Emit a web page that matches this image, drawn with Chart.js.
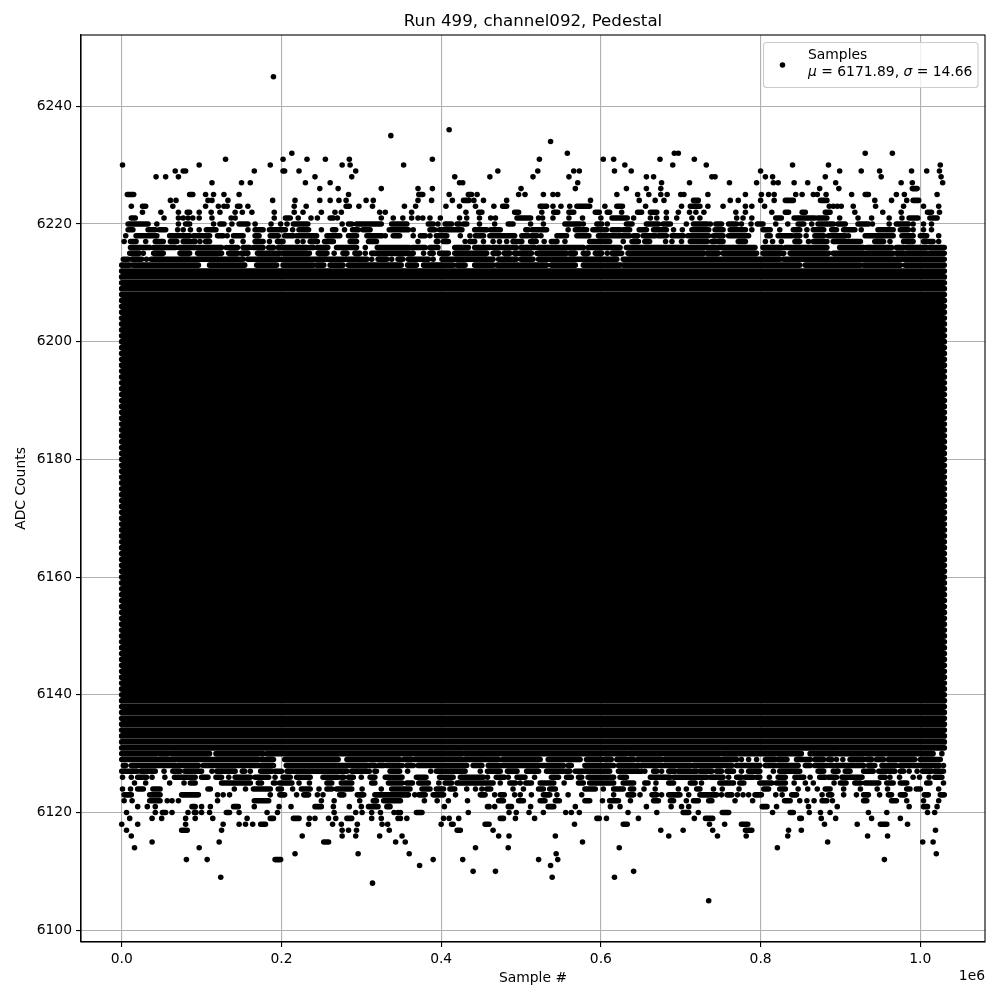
<!DOCTYPE html>
<html>
<head>
<meta charset="utf-8">
<title>Run 499, channel092, Pedestal</title>
<script src="https://cdn.jsdelivr.net/npm/chart.js@4"></script>
<style>
  body { margin: 0; background: #fff; }
  canvas { display: block; }
</style>
</head>
<body>
<canvas id="pedestalChart" width="1000" height="1000"></canvas>
<script>
// Texts and ticks
const chartTitle = "Run 499, channel092, Pedestal";
const xLabel = "Sample #";
const yLabel = "ADC Counts";
const xOffsetText = "1e6";
const legendName = "Samples";
const statMean = "6171.89";
const statSigma = "14.66";
const xTicks = [0, 200000, 400000, 600000, 800000, 1000000];
const yTicks = [6100, 6120, 6140, 6160, 6180, 6200, 6220, 6240];

// Samples per ADC level, x in thousands of samples.
// A number is one visible dot, [a, b] is a run of dots that touch each other.
const adc6245 = [190];
const adc6236 = [410];
const adc6235 = [337];
const adc6234 = [537];
const adc6232 = [213, 558, 692, 697, 931, 965];
const adc6231 = [130, 202, 232, 255, 285, 389, 523, 603, 616, 674, 717];
const adc6230 = [1, 97, 186, 276, 286, 353, 630, 690, 732, 840, 885, 1025];
const adc6229 = [67, 77, 80, 166, 202, 204, 222, 293, 471, 521, 566, 573, 617, 638, 800, 899, 926, 949, 989, 1008, 1024];
const adc6228 = [43, 55, 71, 242, 288, 417, 461, 515, 560, 657, 666, 739, 743, 806, 815, 881, 951, 1026];
const adc6227 = [113, 150, 161, 230, 261, 423, 427, 571, 676, 711, 761, 795, 816, 822, 842, 859, 894, 976, 990, 1028];
const adc6226 = [248, 271, 325, 371, 389, 500, 568, 632, 657, 675, 874, 898, [990, 996]];
const adc6225 = [[7, 15], [85, 89], 105, 115, 128, 147, 284, [372, 377], 410, [434, 438], 445, 497, 505, 528, 540, 546, 620, 646, 660, 675, 683, 700, 704, 734, 781, 801, 810, 817, 844, 852, 866, 871, 882, 914, [931, 935], 970, 980, 1021];
const adc6224 = [61, 68, 108, 113, 133, 189, 217, 248, 261, 272, 281, 306, 315, 371, 388, 414, [428, 435], 441, 453, 482, 587, 648, 668, 679, [716, 722], 762, 772, 800, 817, [831, 841], [875, 883], 943, 964, 983, [991, 998]];
const adc6223 = [12, [26, 30], 64, 105, 121, 128, 132, [145, 148], 158, 216, 231, [281, 285], 297, 314, 354, 368, 406, 423, 443, 466, [477, 482], [524, 532], 540, 550, 561, [570, 586], 605, [620, 627], 656, 701, [712, 724], 734, 753, 781, 789, 805, 886, 891, 896, 901, 916, 944, 979, 1004, 1023];
const adc6222 = [26, 49, 71, [82, 85], 97, 112, 123, 142, 151, 163, 191, 216, 227, 250, 267, 275, 323, 330, 363, 431, [447, 451], [492, 497], 526, [541, 546], [560, 566], [593, 598], [608, 611], 626, [646, 651], [662, 670], 682, 697, 711, 719, 729, 769, 781, 814, [831, 835], [852, 856], [881, 887], 918, 953, 976, [1009, 1014], 1024];
const adc6221 = [[12, 17], 53, 71, 77, 83, 89, 97, 113, 137, 142, 191, [205, 211], 221, 237, 245, [261, 265], 270, 325, 340, 352, 363, 371, 377, 386, 399, 423, 432, 448, 462, 468, [495, 512], 522, 527, 540, 560, 577, 600, [614, 633], 641, 662, 670, 682, 695, 714, 724, 770, 778, 789, [819, 826], [842, 868], [872, 883], 899, 922, 939, 961, 977, [986, 997], 1012, [1015, 1021]];
const adc6220 = [[8, 33], 44, 71, [80, 85], 115, [123, 128], 138, [147, 158], 167, 187, 199, 207, [215, 233], 276, [284, 288], [294, 325], [338, 357], [384, 390], 396, [405, 413], [420, 423], [428, 432], 448, 467, [484, 490], 512, 528, [555, 574], 578, [595, 601], 608, [632, 639], [657, 672], [678, 687], 707, [716, 733], 737, [744, 751], [760, 770], 776, 788, [796, 803], 819, 834, [847, 854], 864, [872, 891], [897, 906], [922, 935], 940, 961, [970, 985], 991, 1004, 1014];
const adc6219 = [[8, 14], [33, 42], [47, 55], 70, 77, 86, 97, [106, 118], 134, 158, [167, 177], [185, 205], 214, [222, 234], 250, [264, 268], 279, [289, 296], [302, 311], [335, 359], 365, [386, 392], [398, 426], [442, 457], [462, 474], [506, 509], [514, 532], 559, [568, 582], [590, 607], [614, 624], [628, 636], [648, 657], [666, 682], 691, 702, [714, 735], [743, 753], [762, 781], 789, [803, 812], 824, [841, 849], 858, [866, 879], [889, 895], [904, 918], 926, [947, 966], [975, 985], 991, 1004, 1014];
const adc6218 = [5, [18, 44], [60, 85], [90, 110], [120, 127], 132, [140, 152], [167, 172], [186, 196], [204, 215], [219, 244], [257, 273], [284, 294], [307, 326], 330, [340, 348], 365, [374, 380], 386, [394, 407], 424, 436, [443, 453], [461, 492], [501, 509], [513, 520], 525, [545, 557], [570, 585], [597, 620], [622, 636], [641, 646], [653, 668], [672, 682], [689, 703], [709, 735], [741, 753], [760, 785], [808, 812], [822, 839], [843, 849], 857, [868, 879], [885, 906], 910, [931, 966], [977, 991], [1000, 1008], 1023];
const adc6217 = [3, [11, 18], 30, [42, 52], [61, 69], [77, 92], 98, [105, 110], 138, 152, [167, 177], 185, [195, 202], 220, 227, [236, 245], [254, 265], [286, 294], [309, 319], 371, [394, 396], [403, 409], 430, [436, 442], 453, 465, 473, 482, [490, 501], [512, 519], 529, [538, 545], 555, [586, 611], 628, [639, 647], [655, 661], 681, 689, 701, [712, 733], [739, 743], [747, 753], [772, 781], 806, 815, 826, [843, 849], 860, [866, 883], [891, 925], [943, 954], 962, [979, 991], [1004, 1016], 1023];
const adc6216 = [[11, 35], [40, 50], [52, 67], [72, 125], 131, [135, 145], [152, 160], [165, 177], [184, 190], [196, 232], [236, 240], [245, 258], [269, 294], 305, [320, 360], [364, 380], [386, 396], [417, 434], [442, 461], [465, 494], [500, 517], [522, 578], [584, 624], [632, 793], [803, 826], [831, 883], [899, 929], [933, 964], [970, 979], [983, 1008], [1012, 1030]];
const adc6215 = [[10, 22], 27, [40, 52], [73, 85], [95, 125], [134, 145], [150, 158], [170, 198], [202, 235], [246, 257], 266, [277, 282], [292, 298], 305, [313, 365], 378, [386, 390], [398, 409], [417, 457], [465, 472], [479, 486], [492, 513], [520, 557], [561, 568], [578, 584], [593, 601], 608, [614, 626], [634, 729], [733, 747], [753, 795], [803, 829], [837, 885], [891, 966], [970, 1030]];
const adc6214 = [[2, 8], [13, 25], 31, [37, 121], [124, 152], [158, 277], [280, 307], 313, [321, 332], 338, [346, 352], [359, 384], 390, [401, 465], [472, 494], [500, 515], [522, 620], [628, 824], [829, 1030]];
const adc6213 = [[0, 10], [14, 96], [110, 154], [169, 194], [202, 240], [244, 253], [261, 277], [284, 350], [358, 369], [378, 415], [420, 430], [442, 465], [470, 497], [500, 532], [538, 568], [578, 624], [628, 849], [856, 925], [929, 975], [981, 1030]];

const adc6130 = [[0, 58], [62, 110], [118, 177], [182, 388], [390, 426], [430, 576], [578, 632], [636, 749], [753, 851], [862, 895], [899, 1016], 1027];
const adc6129 = [[0, 44], [47, 171], [175, 190], [204, 271], [282, 348], [353, 363], [367, 411], [413, 451], [452, 472], [477, 524], [534, 574], [582, 601], [605, 613], [620, 641], [646, 676], [680, 770], 776, 785, 795, [806, 818], [822, 833], [845, 862], [868, 879], [885, 889], 895, 903, [912, 929], [933, 939], [945, 954], [960, 993], [1000, 1025]];
const adc6128 = [[2, 5], [12, 67], [70, 96], [102, 190], [206, 307], [311, 317], [322, 328], [332, 342], [344, 351], [357, 365], [371, 432], [440, 451], [459, 522], [526, 553], [559, 563], [580, 616], [622, 647], [651, 712], [716, 764], [770, 799], [806, 847], [856, 862], [868, 883], [887, 891], [895, 918], [920, 929], [935, 943], [952, 970], [975, 1024], 1029];
const adc6127 = [[0, 19], [24, 42], 53, [64, 73], [79, 100], 113, [119, 142], [151, 154], 161, [174, 188], [192, 200], [207, 282], [288, 310], [317, 319], [336, 348], 358, 387, [394, 430], 449, [458, 474], [483, 495], [507, 522], [532, 561], [568, 611], [622, 651], 655, [666, 670], 676, [685, 693], [697, 720], [724, 739], [745, 751], [758, 766], 776, [785, 799], 816, [824, 849], [872, 879], [891, 897], [906, 912], [929, 941], [948, 968], [975, 979], 986, 996, [1003, 1014], [1018, 1029]];
const adc6126 = [1, 12, [20, 31], 38, 54, [66, 92], [100, 108], [118, 125], 134, [142, 161], [167, 184], 192, [202, 211], [219, 236], [252, 271], [275, 278], [284, 290], 300, [311, 317], [330, 351], [369, 381], [398, 415], [424, 453], 458, [469, 479], 484, [495, 505], 517, [538, 547], [557, 563], [572, 576], [584, 616], [624, 632], [662, 687], [691, 733], [737, 753], 760, [770, 776], [781, 791], [795, 799], 811, [822, 831], [843, 854], 862, [874, 881], [885, 895], [902, 927], [950, 956], 962, 974, 991, 999, 1011, [1018, 1027]];
const adc6125 = [16, 30, 60, 78, [86, 92], [125, 161], [171, 175], [190, 192], [198, 213], 222, 235, [257, 263], [275, 288], [313, 317], [334, 351], [357, 364], [372, 384], 397, [405, 413], [420, 465], 474, [486, 493], 499, [506, 513], [524, 541], 554, [572, 578], [586, 616], [628, 641], [655, 659], 669, [685, 691], [712, 718], 726, [749, 766], [774, 779], [799, 814], [820, 831], 842, 856, 866, 892, [900, 907], [918, 925], [931, 948], [958, 966], [975, 983], [1008, 1012], 1029];
const adc6124 = [1, 11, [20, 27], [39, 48], [108, 111], 141, 155, [165, 186], [196, 200], 214, [225, 236], 247, [257, 263], [269, 288], 301, 325, [338, 361], [376, 386], [394, 403], [411, 417], 432, 443, 451, [457, 462], 490, 503, [522, 528], [536, 543], [580, 593], 603, [616, 628], [637, 641], 654, 668, 697, 707, [720, 724], 741, 752, 773, [804, 810], [824, 831], 847, 859, 871, [881, 887], 904, 925, 946, 959, [983, 987], [995, 1000], 1023];
const adc6123 = [[3, 12], [35, 48], [75, 96], 120, 127, 135, 186, [198, 204], 219, [228, 234], 245, 252, [273, 278], [295, 303], [317, 359], 367, [372, 380], [390, 403], 418, [449, 455], 467, [474, 479], 492, 499, 513, [528, 536], 545, 559, 576, 616, [634, 641], 649, [664, 670], 676, [685, 699], 710, [724, 745], 751, [758, 764], 771, 778, 785, [793, 801], 819, 827, [839, 845], 877, [885, 889], 904, 920, [929, 935], 949, [960, 964], [975, 981], [1005, 1010], [1025, 1030]];
const adc6122 = [3, 13, [35, 48], 57, 63, 71, 120, [166, 184], 250, 266, 298, [315, 319], [328, 349], 379, 395, 409, 433, [472, 478], [497, 503], [524, 530], [543, 548], [580, 586], 602, [611, 622], 637, [666, 672], [687, 691], 707, [716, 722], [735, 739], 768, 790, [830, 837], 849, 858, 867, [877, 883], 890, [929, 933], [964, 970], 983, 1004, 1023];
const adc6121 = [20, 32, 42, [88, 92], 100, 111, [140, 146], 166, 197, 212, [242, 250], 265, 285, 300, [309, 321], [332, 336], 404, [458, 460], 467, [484, 488], 512, [534, 541], 568, 612, 624, 657, 688, 701, 710, [802, 808], 820, 860, 896, 986, [1004, 1009], 1021];
const adc6120 = [6, 42, [51, 55], 63, 83, [91, 93], 100, 110, [131, 135], 147, 182, 195, 266, 293, 301, 313, 324, 341, 346, 349, [369, 376], 434, 485, 494, 510, 528, 556, 563, 573, 634, 670, [703, 710], 722, [752, 760], 815, [837, 841], 861, 875, 887, 935, 958, 1009, 1018];
const adc6119 = [10, 38, 50, 80, 92, 114, 157, [186, 190], [215, 222], 235, 242, 259, 268, [282, 288], 313, 325, 346, 349, 357, 403, 410, 422, [474, 478], 493, 517, [595, 598], 607, 647, 717, [731, 740], [849, 851], 876, 894, 939, 975];
const adc6118 = [0, 20, 80, 127, 147, 155, 164, [174, 180], 234, 264, 275, 295, 326, 333, 400, [413, 415], [455, 460], 567, [628, 633], 736, 755, [776, 784], 880, 921, [950, 958], 984];
const adc6117 = [6, [75, 82], 125, 276, 284, 294, 335, [420, 424], 465, 675, 703, 740, [781, 789], 835, 851, 1019];
const adc6116 = [12, 226, 276, 293, 323, 351, 472, 485, 543, 685, 746, 782, 834, 934, 959];
const adc6115 = [38, 122, [253, 259], 343, 355, 577, 884, 1003, 1016];
const adc6114 = [16, 97, 443, 484, 623, 821];
const adc6113 = [217, 296, 360, 544, 1020];
const adc6112 = [81, 107, [192, 199], 390, 427, 522, 546, 955];
const adc6111 = [373, 537];
const adc6110 = [440, 468, 641];
const adc6109 = [124, 539, 617];
const adc6108 = [314];
const adc6105 = [735];

const sparseLevels = [6245, 6236, 6235, 6234, 6232, 6231, 6230, 6229, 6228, 6227, 6226, 6225, 6224, 6223, 6222, 6221, 6220, 6219, 6218, 6217, 6216, 6215, 6214, 6213,
    6130, 6129, 6128, 6127, 6126, 6125, 6124, 6123, 6122, 6121, 6120, 6119, 6118, 6117, 6116, 6115, 6114, 6113, 6112, 6111, 6110, 6109, 6108, 6105];
const sparseSamples = [adc6245, adc6236, adc6235, adc6234, adc6232, adc6231, adc6230, adc6229, adc6228, adc6227, adc6226, adc6225, adc6224, adc6223, adc6222, adc6221, adc6220, adc6219, adc6218, adc6217, adc6216, adc6215, adc6214, adc6213,
    adc6130, adc6129, adc6128, adc6127, adc6126, adc6125, adc6124, adc6123, adc6122, adc6121, adc6120, adc6119, adc6118, adc6117, adc6116, adc6115, adc6114, adc6113, adc6112, adc6111, adc6110, adc6109, adc6108, adc6105];

// Levels so full that the dots merge into one line from first to last sample
const fullLevels = [6212, 6211, 6210, 6209, 6208, 6207, 6206, 6205, 6204, 6203, 6202, 6201, 6200, 6199, 6198, 6197, 6196, 6195, 6194, 6193, 6192, 6191,
    6190, 6189, 6188, 6187, 6186, 6185, 6184, 6183, 6182, 6181, 6180, 6179, 6178, 6177, 6176, 6175, 6174, 6173, 6172, 6171, 6170, 6169, 6168, 6167, 6166,
    6165, 6164, 6163, 6162, 6161, 6160, 6159, 6158, 6157, 6156, 6155, 6154, 6153, 6152, 6151, 6150, 6149, 6148, 6147, 6146, 6145, 6144, 6143, 6142, 6141,
    6140, 6139, 6138, 6137, 6136, 6135, 6134, 6133, 6132, 6131];
const fullRange = [0, 1030];

// The solid black core of the band, where single samples cannot be told apart
const coreX = [0, 1030];
const coreY = [6139, 6207];

const dots = [];
const runs = [];
const fullRuns = [];

function addRun(target, level, from, to) {
    target.push({ x: from * 1000, y: level }, { x: to * 1000, y: level }, { x: to * 1000, y: null });
}

sparseLevels.forEach((level, i) => {
    sparseSamples[i].forEach((item) => {
        if (Array.isArray(item)) {
            addRun(runs, level, item[0], item[1]);
        } else {
            dots.push({ x: item * 1000, y: level });
        }
    });
});
fullLevels.forEach((level) => addRun(fullRuns, level, fullRange[0], fullRange[1]));

const core = [
    { x: coreX[0] * 1000, y: coreY[0] },
    { x: coreX[1] * 1000, y: coreY[0] },
    { x: coreX[1] * 1000, y: coreY[1] },
    { x: coreX[0] * 1000, y: coreY[1] },
    { x: coreX[0] * 1000, y: coreY[0] }
];

const font = "'DejaVu Sans', sans-serif";

// Title over the axes, top and right spines, the 1e6 offset and the legend box with its mixed italics
const frameAndLegend = {
    id: "frameAndLegend",
    afterDraw(chart) {
        const ctx = chart.ctx;
        const area = chart.chartArea;
        ctx.save();
        ctx.strokeStyle = "#000";
        ctx.lineWidth = 1.1;
        ctx.strokeRect(area.left, area.top, area.right - area.left, area.bottom - area.top);

        ctx.fillStyle = "#000";
        ctx.font = "16.67px " + font;
        ctx.textAlign = "center";
        ctx.textBaseline = "alphabetic";
        ctx.fillText(chartTitle, (area.left + area.right) / 2, 26);

        ctx.font = "13.89px " + font;
        ctx.textAlign = "right";
        ctx.fillText(xOffsetText, 985, 980);

        ctx.beginPath();
        ctx.roundRect(763.5, 42.5, 214.5, 45, 3);
        ctx.fillStyle = "rgba(255,255,255,0.8)";
        ctx.fill();
        ctx.strokeStyle = "#ccc";
        ctx.lineWidth = 1.1;
        ctx.stroke();

        ctx.fillStyle = "#000";
        ctx.beginPath();
        ctx.arc(782.5, 65, 2.78, 0, Math.PI * 2);
        ctx.fill();

        ctx.textAlign = "left";
        ctx.fillText(legendName, 808, 59);
        const parts = [["\u03bc", true], [" = " + statMean + ", ", false], ["\u03c3", true], [" = " + statSigma, false]];
        let x = 808;
        parts.forEach(([text, italic]) => {
            ctx.font = (italic ? "italic " : "") + "13.89px " + font;
            ctx.fillText(text, x, 76);
            x += ctx.measureText(text).width;
        });
        ctx.restore();
    }
};

const ctx = document.getElementById("pedestalChart").getContext("2d");
new Chart(ctx, {
    type: "scatter",
    data: {
        datasets: [
            { label: legendName, data: dots, pointRadius: 2.78, pointHoverRadius: 2.78, borderWidth: 0, backgroundColor: "#000", pointBorderWidth: 0 },
            { label: "runs", data: runs, showLine: true, spanGaps: false, pointRadius: 0, borderColor: "#000", borderWidth: 5.56, borderCapStyle: "round", fill: false },
            { label: "full levels", data: fullRuns, showLine: true, spanGaps: false, pointRadius: 0, borderColor: "#000", borderWidth: 5.75, borderCapStyle: "round", fill: false },
            { label: "core", data: core, showLine: true, pointRadius: 0, borderWidth: 0, backgroundColor: "#000", fill: "shape" }
        ]
    },
    options: {
        responsive: false,
        animation: false,
        events: [],
        layout: { padding: { top: 35, right: 15, left: 0, bottom: 0 } },
        plugins: {
            legend: { display: false },
            tooltip: { enabled: false }
        },
        scales: {
            x: {
                type: "linear",
                min: -51000,
                max: 1081000,
                afterBuildTicks: (scale) => { scale.ticks = xTicks.map((value) => ({ value })); },
                afterFit: (scale) => { scale.height = 58; },
                ticks: {
                    color: "#000",
                    font: { family: font, size: 13.89 },
                    padding: 4,
                    maxRotation: 0,
                    autoSkip: false,
                    callback: (value) => (value / 1000000).toFixed(1)
                },
                grid: { color: "#b0b0b0", lineWidth: 1.1, tickColor: "#000", tickLength: 5 },
                border: { color: "#000", width: 1.1 },
                title: { display: true, text: xLabel, color: "#000", font: { family: font, size: 13.89 }, padding: { top: 0, bottom: 13 } }
            },
            y: {
                type: "linear",
                min: 6098,
                max: 6252.1,
                afterBuildTicks: (scale) => { scale.ticks = yTicks.map((value) => ({ value })); },
                afterFit: (scale) => { scale.width = 81; },
                ticks: {
                    color: "#000",
                    font: { family: font, size: 13.89 },
                    padding: 4,
                    autoSkip: false,
                    callback: (value) => String(value)
                },
                grid: { color: "#b0b0b0", lineWidth: 1.1, tickColor: "#000", tickLength: 5 },
                border: { color: "#000", width: 1.1 },
                title: { display: true, text: yLabel, color: "#000", font: { family: font, size: 13.89 }, padding: { top: 13, bottom: 0 } }
            }
        }
    },
    plugins: [frameAndLegend]
});
</script>
</body>
</html>
